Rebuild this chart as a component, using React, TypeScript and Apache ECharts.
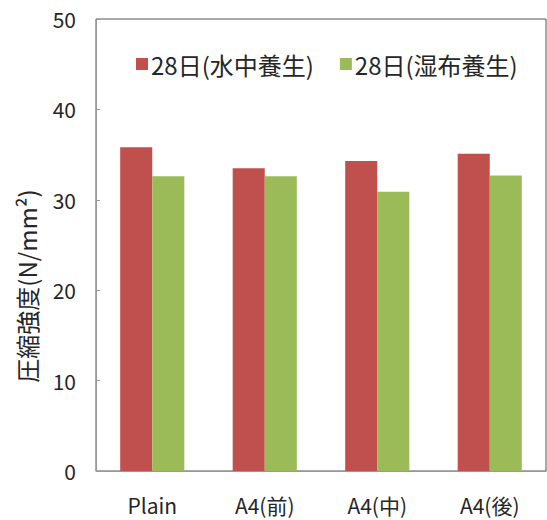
import React, { useEffect, useRef } from "react";
import * as echarts from "echarts";

const categories = ["Plain", "A4(前)", "A4(中)", "A4(後)"];
const seriesNames = ["28日(水中養生)", "28日(湿布養生)"];
const waterCuring = [35.8, 33.5, 34.3, 35.1];
const wetCuring = [32.6, 32.6, 30.9, 32.7];
const yAxisTitle = "圧縮強度(N/mm²)";

const FONT = "'Noto Sans CJK JP', 'Noto Sans', sans-serif";

export default function App() {
  const ref = useRef<HTMLDivElement>(null);
  useEffect(() => {
    if (!ref.current) return;
    const chart = echarts.init(ref.current, null, { renderer: "svg" });
    chart.setOption({
      animation: false,
      backgroundColor: "#ffffff",
      textStyle: { fontFamily: FONT },
      legend: {
        top: 47,
        left: 131,
        itemWidth: 12,
        itemHeight: 12,
        itemGap: 26,
        icon: "rect",
        textStyle: { fontSize: 24, color: "#262626", fontFamily: FONT, padding: [0, 0, 0, -2] },
        data: seriesNames,
      },
      grid: {
        left: 96,
        right: 1,
        top: 19,
        bottom: 49,
        show: true,
        borderColor: "#555",
        borderWidth: 1,
        containLabel: false,
      },
      xAxis: {
        type: "category",
        data: categories,
        axisLine: { show: true, lineStyle: { color: "#999" } },
        axisTick: { show: false },
        axisLabel: { fontSize: 21, color: "#262626", margin: 23, fontFamily: FONT },
      },
      yAxis: {
        type: "value",
        min: 0,
        max: 50,
        interval: 10,
        axisLine: { show: true, lineStyle: { color: "#999" } },
        axisTick: { show: true, inside: true, length: 4, lineStyle: { color: "#999" } },
        splitLine: { show: false },
        axisLabel: { fontSize: 21, color: "#262626", margin: 20, fontFamily: FONT },
      },
      graphic: [
        {
          type: "text",
          x: 26,
          y: 286,
          rotation: Math.PI / 2,
          style: {
            text: yAxisTitle,
            fill: "#262626",
            font: `24px ${FONT}`,
            textAlign: "center",
            textVerticalAlign: "middle",
          },
        },
      ],
      series: [
        {
          name: seriesNames[0],
          type: "bar",
          data: waterCuring,
          barGap: "0%",
          barCategoryGap: "43%",
          itemStyle: { color: "#C0504D" },
        },
        {
          name: seriesNames[1],
          type: "bar",
          data: wetCuring,
          barGap: "0%",
          barCategoryGap: "43%",
          itemStyle: { color: "#9BBB59" },
        },
      ],
    });
    return () => chart.dispose();
  }, []);
  return (
    <div
      ref={ref}
      style={{ width: 547, height: 520, position: "absolute", left: 0, top: 0 }}
    />
  );
}
